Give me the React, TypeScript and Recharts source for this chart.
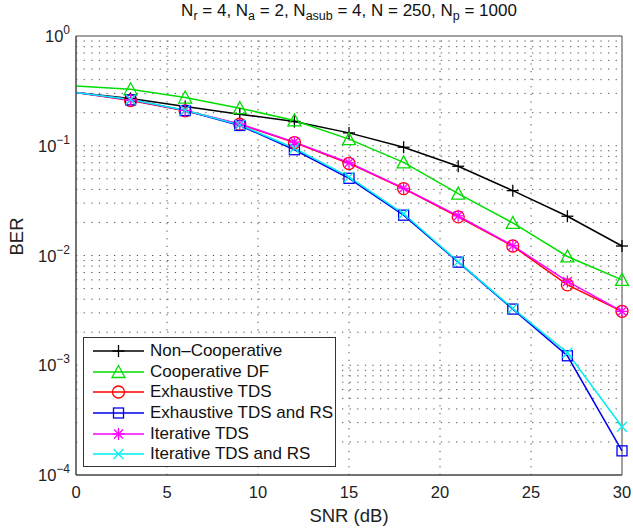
import React from "react";
import {
  LineChart,
  Line,
  XAxis,
  YAxis,
  ReferenceLine,
  ReferenceArea,
  Legend,
} from "recharts";

const SNR = [0, 3, 6, 9, 12, 15, 18, 21, 24, 27, 30];

const NON_COOP = [0.305, 0.27, 0.228, 0.194, 0.166, 0.131, 0.097, 0.065, 0.039, 0.0228, 0.0122];
const COOP_DF = [0.351, 0.327, 0.275, 0.22, 0.17, 0.115, 0.0705, 0.0366, 0.0198, 0.0098, 0.006];
const EXH_TDS = [0.305, 0.258, 0.208, 0.157, 0.107, 0.069, 0.0407, 0.0225, 0.0122, 0.0054, 0.0031];
const EXH_TDS_RS = [0.305, 0.262, 0.209, 0.153, 0.092, 0.0505, 0.0233, 0.0087, 0.00325, 0.00122, 0.000166];
const ITER_TDS = [0.305, 0.262, 0.21, 0.158, 0.108, 0.07, 0.041, 0.023, 0.0123, 0.0058, 0.0031];
const ITER_TDS_RS = [0.305, 0.264, 0.211, 0.155, 0.095, 0.052, 0.024, 0.0088, 0.0033, 0.0013, 0.000275];

const X_TICKS = [0, 5, 10, 15, 20, 25, 30];
const Y_TICKS = [1e-4, 1e-3, 1e-2, 1e-1, 1];
const Y_EXPONENTS = ["\u22124", "\u22123", "\u22122", "\u22121", "0"];
const DECADES = [1e-4, 1e-3, 1e-2, 1e-1];
const MINOR_STEPS = [1, 2, 3, 4, 5, 6, 7, 8, 9];

const V_GRID = X_TICKS.slice(1, -1);
const H_GRID = DECADES.flatMap((d) => MINOR_STEPS.map((m) => d * m)).filter((v) => v > 1e-4);

const SERIES = [
  { key: "nc", name: "Non\u2013Cooperative", color: "#000000", shape: "plus", values: NON_COOP },
  { key: "df", name: "Cooperative DF", color: "#00dd00", shape: "triangle", values: COOP_DF },
  { key: "et", name: "Exhaustive TDS", color: "#ff0000", shape: "circle", values: EXH_TDS },
  { key: "etr", name: "Exhaustive TDS and RS", color: "#0000ee", shape: "square", values: EXH_TDS_RS },
  { key: "it", name: "Iterative TDS", color: "#ff00ff", shape: "star", values: ITER_TDS },
  { key: "itr", name: "Iterative TDS and RS", color: "#00eeee", shape: "cross", values: ITER_TDS_RS },
];

const data = SNR.map((snr, i) => {
  const row: Record<string, number> = { snr };
  SERIES.forEach((s) => (row[s.key] = s.values[i]));
  return row;
});

const FONT = "'Liberation Sans', Arial, Helvetica, sans-serif";
const GRID_STROKE = "#555";
const GRID_DASH = "1.3 6.3";

function Marker({ shape, cx, cy, color }: { shape: string; cx: number; cy: number; color: string }) {
  const p = { stroke: color, strokeWidth: 1.3, fill: "none" };
  switch (shape) {
    case "plus":
      return (
        <g {...p}>
          <line x1={cx - 6} y1={cy} x2={cx + 6} y2={cy} />
          <line x1={cx} y1={cy - 6} x2={cx} y2={cy + 6} />
        </g>
      );
    case "triangle":
      return <polygon {...p} points={`${cx},${cy - 6.5} ${cx - 6.5},${cy + 5.5} ${cx + 6.5},${cy + 5.5}`} />;
    case "circle":
      return <circle {...p} cx={cx} cy={cy} r={6} />;
    case "square":
      return <rect {...p} x={cx - 5} y={cy - 5} width={10} height={10} />;
    case "star":
      return (
        <g {...p}>
          <line x1={cx - 6} y1={cy} x2={cx + 6} y2={cy} />
          <line x1={cx} y1={cy - 6} x2={cx} y2={cy + 6} />
          <line x1={cx - 4.5} y1={cy - 4.5} x2={cx + 4.5} y2={cy + 4.5} />
          <line x1={cx - 4.5} y1={cy + 4.5} x2={cx + 4.5} y2={cy - 4.5} />
        </g>
      );
    default:
      return (
        <g {...p}>
          <line x1={cx - 5} y1={cy - 5} x2={cx + 5} y2={cy + 5} />
          <line x1={cx - 5} y1={cy + 5} x2={cx + 5} y2={cy - 5} />
        </g>
      );
  }
}

function makeDot(shape: string, color: string) {
  return (props: any) => {
    const { cx, cy, index, payload } = props;
    if (!payload || payload.snr === 0) return <g key={`d-${index}`} />;
    return (
      <g key={`d-${index}`}>
        <Marker shape={shape} cx={cx} cy={cy} color={color} />
      </g>
    );
  };
}

function YTick(props: any) {
  const { x, y, payload } = props;
  const idx = Y_TICKS.indexOf(payload.value);
  return (
    <text x={x} y={y + 6} textAnchor="end" fontFamily={FONT} fontSize={16.5} fill="#222">
      <tspan>10</tspan>
      <tspan dy={-8} fontSize={12}>
        {Y_EXPONENTS[idx]}
      </tspan>
    </text>
  );
}

function XTick(props: any) {
  const { x, y, payload } = props;
  return (
    <text x={x} y={y + 21} textAnchor="middle" fontFamily={FONT} fontSize={16.5} fill="#222">
      {payload.value}
    </text>
  );
}

function LegendBox() {
  return (
    <div
      style={{
        width: 253,
        height: 130,
        boxSizing: "border-box",
        border: "1px solid #333",
        background: "#fff",
        fontFamily: FONT,
        fontSize: 17,
        color: "#111",
        paddingTop: 3,
      }}
    >
      {SERIES.map((s) => (
        <div key={s.key} style={{ display: "flex", alignItems: "center", height: 20.6 }}>
          <svg width={66} height={20} style={{ flex: "none" }}>
            <line x1={9} y1={10} x2={60} y2={10} stroke={s.color} strokeWidth={1.5} />
            <Marker shape={s.shape} cx={34.5} cy={10} color={s.color} />
          </svg>
          <span style={{ lineHeight: "20px" }}>{s.name}</span>
        </div>
      ))}
    </div>
  );
}

export default function App() {
  return (
    <div style={{ position: "absolute", left: 0, top: 0, width: 633, height: 529, background: "#fff" }}>
      <div
        style={{
          position: "absolute",
          left: 76,
          width: 546,
          top: 1,
          textAlign: "center",
          fontFamily: FONT,
          fontSize: 17,
          color: "#111",
        }}
      >
        N<sub style={{ fontSize: 12.5 }}>r</sub> = 4, N<sub style={{ fontSize: 12.5 }}>a</sub> = 2, N
        <sub style={{ fontSize: 12.5 }}>asub</sub> = 4, N = 250, N<sub style={{ fontSize: 12.5 }}>p</sub> = 1000
      </div>
      <LineChart width={633} height={529} data={data} margin={{ top: 36, right: 11, bottom: 0, left: 0 }}>
        <XAxis
          dataKey="snr"
          type="number"
          domain={[0, 30]}
          ticks={X_TICKS}
          tick={<XTick />}
          tickLine={false}
          tickSize={0}
          height={54}
          axisLine={{ stroke: "#444" }}
          label={{ value: "SNR (dB)", position: "insideBottom", offset: 7, fontSize: 18.5, fontFamily: FONT, fill: "#222" }}
        />
        <YAxis
          type="number"
          scale="log"
          domain={[1e-4, 1]}
          ticks={Y_TICKS}
          allowDataOverflow
          tick={<YTick />}
          tickLine={false}
          tickSize={0}
          tickMargin={6}
          width={76}
          axisLine={{ stroke: "#444" }}
          label={{ value: "BER", angle: -90, position: "insideLeft", offset: 16, fontSize: 18.5, fontFamily: FONT, fill: "#222" }}
        />
        {V_GRID.map((v) => (
          <ReferenceLine key={`v${v}`} x={v} stroke={GRID_STROKE} strokeDasharray={GRID_DASH} />
        ))}
        {H_GRID.map((v) => (
          <ReferenceLine key={`h${v}`} y={v} stroke={GRID_STROKE} strokeDasharray={GRID_DASH} />
        ))}
        <ReferenceArea x1={0} x2={30} y1={1e-4} y2={1} fill="none" stroke="#444" strokeWidth={1} />
        {SERIES.map((s) => (
          <Line
            key={s.key}
            dataKey={s.key}
            type="linear"
            stroke={s.color}
            strokeWidth={1.5}
            dot={makeDot(s.shape, s.color)}
            activeDot={false}
            isAnimationActive={false}
          />
        ))}
        <Legend
          layout="vertical"
          align="center"
          verticalAlign="middle"
          content={<LegendBox />}
          wrapperStyle={{ left: 83, top: 337, width: 253, height: 130 }}
        />
      </LineChart>
    </div>
  );
}
